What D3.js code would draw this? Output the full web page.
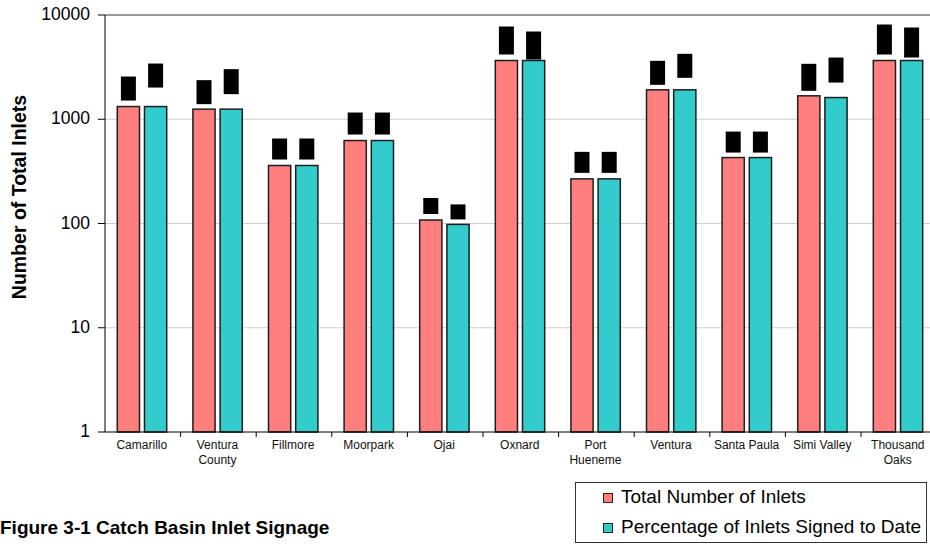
<!DOCTYPE html>
<html>
<head>
<meta charset="utf-8">
<script src="https://cdn.jsdelivr.net/npm/d3@7"></script>
<style>
  html, body { margin: 0; padding: 0; background: #fff; }
  svg { display: block; font-family: Arial, "Liberation Sans", sans-serif; }
</style>
</head>
<body>
<svg id="chart" width="930" height="544"></svg>
<script>
// Inlet counts per city
const cities = [
  ["Camarillo"], ["Ventura", "County"], ["Fillmore"], ["Moorpark"], ["Ojai"],
  ["Oxnard"], ["Port", "Hueneme"], ["Ventura"], ["Santa Paula"], ["Simi Valley"],
  ["Thousand", "Oaks"]
];
const totalInlets  = [1324, 1250, 360, 625, 108, 3660, 268, 1915, 429, 1678, 3660];
const signedInlets = [1324, 1250, 360, 625,  98, 3660, 268, 1915, 429, 1615, 3660];
const seriesNames = ["Total Number of Inlets", "Percentage of Inlets Signed to Date"];
const seriesColors = ["#ff7f7f", "#33cccc"];
const yTicks = [1, 10, 100, 1000, 10000];

// Solid value tags drawn above each bar: [lift above bar top, tag height] in px
const tagTotal  = [[6,24],[5,24],[6,21],[6,22],[6,16],[6,28],[6,21],[5,24],[5,21],[5,27],[6,30]];
const tagSigned = [[19,24],[15,25],[6,21],[6,22],[5,15],[1,28],[6,21],[12,24],[5,21],[15,25],[3,30]];

const svg = d3.select("#chart");
const plotLeft = 105, plotTop = 15, plotBottom = 432, step = 75.6;

const keys = cities.map((c, i) => "c" + i);
const x = d3.scaleBand().domain(keys).range([plotLeft, plotLeft + step * keys.length]).padding(0);
const inner = d3.scaleBand().domain([0, 1]).range([12.3, 61.7]).paddingInner(0.184).paddingOuter(0);
const y = d3.scaleLog().domain([1, 10000]).range([plotBottom, plotTop]);

// Horizontal gridlines
svg.append("g").selectAll("line")
  .data(yTicks.filter(t => t > 1 && t < 10000))
  .join("line")
  .attr("x1", plotLeft).attr("x2", 930)
  .attr("y1", d => y(d)).attr("y2", d => y(d))
  .attr("stroke", "#d0d0d0").attr("stroke-width", 1);

// Plot frame top edge
svg.append("line")
  .attr("x1", plotLeft).attr("x2", 930)
  .attr("y1", y(10000)).attr("y2", y(10000))
  .attr("stroke", "#999").attr("stroke-width", 2);

// Bars
const series = [totalInlets, signedInlets];
const tags = [tagTotal, tagSigned];
series.forEach((vals, s) => {
  const g = svg.append("g");
  g.selectAll("rect.bar")
    .data(vals)
    .join("rect")
    .attr("class", "bar")
    .attr("x", (d, i) => x(keys[i]) + inner(s))
    .attr("y", d => y(d))
    .attr("width", inner.bandwidth())
    .attr("height", d => plotBottom - y(d))
    .attr("fill", seriesColors[s])
    .attr("stroke", "#1e1e1e")
    .attr("stroke-width", 1.5);

  // Value tags
  g.selectAll("rect.tag")
    .data(vals)
    .join("rect")
    .attr("class", "tag")
    .attr("x", (d, i) => x(keys[i]) + inner(s) + inner.bandwidth() / 2 - 7.5)
    .attr("y", (d, i) => y(d) - tags[s][i][0] - tags[s][i][1])
    .attr("width", 15)
    .attr("height", (d, i) => tags[s][i][1])
    .attr("fill", "#000");
});

// Y axis
const yAxis = svg.append("g");
yAxis.append("line")
  .attr("x1", plotLeft).attr("x2", plotLeft)
  .attr("y1", plotTop).attr("y2", plotBottom)
  .attr("stroke", "#000");
yAxis.selectAll("line.tick")
  .data(yTicks)
  .join("line")
  .attr("class", "tick")
  .attr("x1", plotLeft - 7).attr("x2", plotLeft)
  .attr("y1", d => y(d)).attr("y2", d => y(d))
  .attr("stroke", "#000");
yAxis.selectAll("text")
  .data(yTicks)
  .join("text")
  .attr("x", 90)
  .attr("y", d => y(d) + 5)
  .attr("text-anchor", "end")
  .attr("font-size", 17.5)
  .attr("fill", "#000")
  .text(d => d);

svg.append("text")
  .attr("transform", "translate(26,197) rotate(-90)")
  .attr("text-anchor", "middle")
  .attr("font-size", 19.5)
  .attr("font-weight", "bold")
  .attr("fill", "#000")
  .text("Number of Total Inlets");

// X axis
const xAxis = svg.append("g");
xAxis.append("line")
  .attr("x1", plotLeft).attr("x2", 930)
  .attr("y1", plotBottom).attr("y2", plotBottom)
  .attr("stroke", "#000");
xAxis.selectAll("line.tick")
  .data(keys)
  .join("line")
  .attr("class", "tick")
  .attr("x1", d => x(d) + x.bandwidth()).attr("x2", d => x(d) + x.bandwidth())
  .attr("y1", plotBottom).attr("y2", plotBottom + 5)
  .attr("stroke", "#000");
const lbl = xAxis.selectAll("text")
  .data(cities)
  .join("text")
  .attr("text-anchor", "middle")
  .attr("font-size", 12)
  .attr("fill", "#111");
lbl.selectAll("tspan")
  .data((d, i) => d.map((t, j) => ({ t, j, i })))
  .join("tspan")
  .attr("x", d => x(keys[d.i]) + x.bandwidth() / 2 - 1)
  .attr("y", d => 449 + d.j * 15)
  .text(d => d.t);

// Legend
const legend = svg.append("g");
legend.append("rect")
  .attr("x", 575.5).attr("y", 482.5)
  .attr("width", 351).attr("height", 60)
  .attr("fill", "#fff").attr("stroke", "#333");
seriesNames.forEach((name, i) => {
  legend.append("rect")
    .attr("x", 603.5).attr("y", 493.5 + i * 30)
    .attr("width", 9).attr("height", 9)
    .attr("fill", seriesColors[i]).attr("stroke", "#222");
  legend.append("text")
    .attr("x", 621).attr("y", 503 + i * 30)
    .attr("font-size", 19)
    .attr("fill", "#000")
    .text(name);
});

// Caption
svg.append("text")
  .attr("x", 0).attr("y", 534)
  .attr("font-size", 19)
  .attr("font-weight", "bold")
  .attr("fill", "#000")
  .text("Figure 3-1 Catch Basin Inlet Signage");
</script>
</body>
</html>
